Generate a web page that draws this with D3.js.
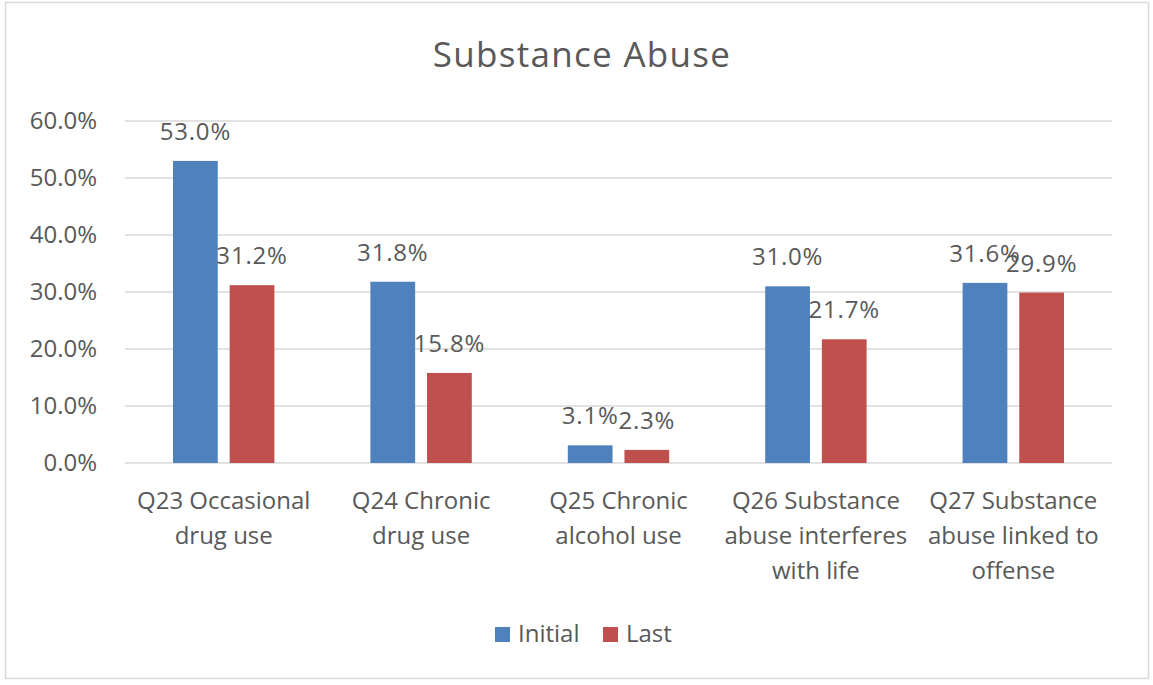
<!DOCTYPE html>
<html>
<head>
<meta charset="utf-8">
<script src="https://cdn.jsdelivr.net/npm/d3@7"></script>
<style>
  body { margin: 0; background: #fff; }
  svg text { font-family: "Open Sans", "Noto Sans", sans-serif; fill: #595959; }
</style>
</head>
<body>
<div id="chart"></div>
<script>
// chart values
const categories = ["Q23", "Q24", "Q25", "Q26", "Q27"];
const categoryLines = [
  ["Q23 Occasional", "drug use"],
  ["Q24 Chronic", "drug use"],
  ["Q25 Chronic", "alcohol use"],
  ["Q26 Substance", "abuse interferes", "with life"],
  ["Q27 Substance", "abuse linked to", "offense"]
];
const seriesNames = ["Initial", "Last"];
const initialValues = [0.530, 0.318, 0.031, 0.310, 0.316];
const lastValues = [0.312, 0.158, 0.023, 0.217, 0.299];
const yTicks = [0, 0.1, 0.2, 0.3, 0.4, 0.5, 0.6];

const colors = {Initial: "#4f81bd", Last: "#c0504d"};

const W = 1153, H = 685;
const margin = {top: 121, right: 41, bottom: 222, left: 125};
const width = W - margin.left - margin.right;
const height = H - margin.top - margin.bottom;

const rows = categories.map((c, i) => ({
  cat: c,
  lines: categoryLines[i],
  vals: [
    {key: "Initial", value: initialValues[i]},
    {key: "Last", value: lastValues[i]}
  ]
}));

const svg = d3.select("#chart").append("svg")
  .attr("width", W)
  .attr("height", H);

// outer chart border
svg.append("rect")
  .attr("x", 5.5).attr("y", 2.5)
  .attr("width", 1143).attr("height", 676)
  .attr("fill", "#fff")
  .attr("stroke", "#d9d9d9")
  .attr("stroke-width", 1.5);

svg.append("text")
  .attr("x", 582).attr("y", 67)
  .attr("text-anchor", "middle")
  .style("font-size", "35px")
  .style("letter-spacing", "1.3px")
  .text("Substance Abuse");

const g = svg.append("g")
  .attr("transform", "translate(" + margin.left + "," + margin.top + ")");

const x0 = d3.scaleBand()
  .domain(categories)
  .range([0, width]);

const groupPad = 48;
const x1 = d3.scaleBand()
  .domain(seriesNames)
  .range([groupPad, x0.bandwidth() - groupPad])
  .paddingInner(0.21);

const y = d3.scaleLinear()
  .domain([0, 0.6])
  .range([height, 0]);

// gridlines
g.selectAll(".grid")
  .data(yTicks)
  .enter().append("line")
  .attr("x1", 0).attr("x2", width)
  .attr("y1", d => y(d)).attr("y2", d => y(d))
  .attr("stroke", "#d9d9d9")
  .attr("stroke-width", 1.5);

// y axis labels
const yAxis = d3.axisLeft(y)
  .tickValues(yTicks)
  .tickFormat(d3.format(".1%"))
  .tickSize(0)
  .tickPadding(28);

g.append("g")
  .call(yAxis)
  .call(s => s.select(".domain").remove())
  .selectAll("text")
  .style("font-size", "24px")
  .attr("fill", "#595959")
  .attr("font-family", null);

const groups = g.selectAll(".grp")
  .data(rows)
  .enter().append("g")
  .attr("transform", d => "translate(" + x0(d.cat) + ",0)");

groups.selectAll("rect")
  .data(d => d.vals)
  .enter().append("rect")
  .attr("x", d => x1(d.key))
  .attr("width", x1.bandwidth())
  .attr("y", d => y(d.value))
  .attr("height", d => height - y(d.value))
  .attr("fill", d => colors[d.key]);

groups.selectAll(".lbl")
  .data(d => d.vals)
  .enter().append("text")
  .attr("class", "lbl")
  .attr("x", d => x1(d.key) + x1.bandwidth() / 2)
  .attr("y", d => y(d.value) - 21)
  .attr("text-anchor", "middle")
  .style("font-size", "24px")
  .style("letter-spacing", "0.8px")
  .text(d => d3.format(".1%")(d.value));

// category labels
const catText = groups.append("text")
  .attr("class", "cat")
  .attr("text-anchor", "middle")
  .style("font-size", "24px")
  .attr("transform", "translate(" + (x0.bandwidth() / 2) + "," + (height + 46) + ")");

catText.selectAll("tspan")
  .data(d => d.lines)
  .enter().append("tspan")
  .attr("x", 0)
  .attr("y", (d, i) => i * 35)
  .text(d => d);

// legend
const legend = svg.append("g").attr("transform", "translate(495,627)");
const legendX = [0, 108];
seriesNames.forEach((s, i) => {
  legend.append("rect")
    .attr("x", legendX[i]).attr("y", 0)
    .attr("width", 15).attr("height", 15)
    .attr("fill", colors[s]);
  legend.append("text")
    .attr("x", legendX[i] + 23).attr("y", 15)
    .style("font-size", "24px")
    .text(s);
});
</script>
</body>
</html>
